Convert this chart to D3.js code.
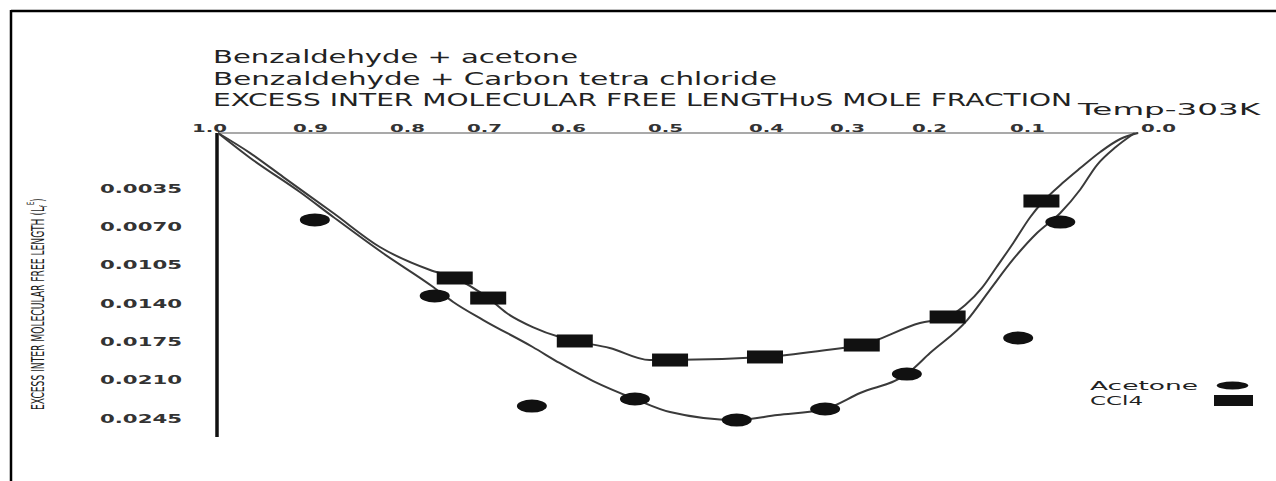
<!DOCTYPE html>
<html><head><meta charset="utf-8">
<script src="https://cdn.jsdelivr.net/npm/d3@7"></script>
<style>html,body{margin:0;padding:0;background:#fff;} svg{display:block;}</style>
</head><body>
<svg id="chart" width="1276" height="481"></svg>
<script>
// ---------- data ----------
const titleLines = [
  "Benzaldehyde + acetone",
  "Benzaldehyde + Carbon tetra chloride",
  "EXCESS INTER MOLECULAR FREE LENGTH\u03C5S MOLE FRACTION"
];
const tempLabel = "Temp-303K";
const yAxisTitle = "EXCESS INTER MOLECULAR FREE LENGTH (L";
const xTicks = [1.0, 0.9, 0.8, 0.7, 0.6, 0.5, 0.4, 0.3, 0.2, 0.1, 0.0];
const yTicks = [0.0035, 0.0070, 0.0105, 0.0140, 0.0175, 0.0210, 0.0245];
const seriesNames = ["Acetone", "CCl4"];

// measured points (mole fraction, excess free length)
const acetoneX = [0.895, 0.764, 0.643, 0.531, 0.429, 0.327, 0.227, 0.109, 0.070];
const acetoneY = [0.00639, 0.01333, 0.02338, 0.02274, 0.02466, 0.02365, 0.02046, 0.01717, 0.00658];
const ccl4X = [0.738, 0.695, 0.593, 0.495, 0.401, 0.282, 0.181, 0.087];
const ccl4Y = [0.01169, 0.01352, 0.01744, 0.01918, 0.01890, 0.01781, 0.01525, 0.00466];

// hand-drawn trend curves
const acetoneCurveX = [1.0, 0.965, 0.911, 0.876, 0.825, 0.766, 0.740, 0.701, 0.642, 0.610, 0.574, 0.531, 0.495, 0.429, 0.386, 0.327, 0.284, 0.227, 0.199, 0.161, 0.138, 0.114, 0.091, 0.070, 0.052, 0.037, 0.020, 0.003];
const acetoneCurveY = [0, 0.00158, 0.00384, 0.00612, 0.00941, 0.01251, 0.01388, 0.01553, 0.01799, 0.01945, 0.02110, 0.02274, 0.02393, 0.02466, 0.02420, 0.02365, 0.02219, 0.02046, 0.01854, 0.01553, 0.01279, 0.00997, 0.00758, 0.00576, 0.00361, 0.00203, 0.00089, 0];
const ccl4CurveX = [1.0, 0.965, 0.929, 0.876, 0.828, 0.770, 0.738, 0.695, 0.673, 0.642, 0.610, 0.593, 0.557, 0.516, 0.495, 0.401, 0.325, 0.282, 0.211, 0.181, 0.163, 0.146, 0.131, 0.114, 0.097, 0.086, 0.068, 0.052, 0.034, 0.016, 0.0];
const ccl4CurveY = [0, 0.00127, 0.00279, 0.00576, 0.00886, 0.01096, 0.01169, 0.01352, 0.01489, 0.01617, 0.01708, 0.01744, 0.01808, 0.01918, 0.01918, 0.01890, 0.01826, 0.01781, 0.01580, 0.01525, 0.01416, 0.01260, 0.01069, 0.00849, 0.00612, 0.00475, 0.00317, 0.00222, 0.00120, 0.00038, 0];

// ---------- drawing ----------
const svg = d3.select("#chart");
const FONT = "DejaVu Sans, Verdana, sans-serif";

// page frame
svg.append("line").attr("x1", 11).attr("x2", 1276).attr("y1", 11).attr("y2", 11).attr("stroke", "#000").attr("stroke-width", 2.5);
svg.append("line").attr("x1", 11).attr("x2", 11).attr("y1", 10).attr("y2", 481).attr("stroke", "#000").attr("stroke-width", 2.5);

// scales (hand-drawn, piecewise linear)
const x = d3.scaleLinear().domain(xTicks).range([218, 310, 407, 484, 568, 665, 766, 847, 929, 1027, 1138]);
const y = d3.scaleLinear().domain([0, 0.0035, 0.0245]).range([133, 188.3, 418.3]);

// titles
const titleWidths = [365, 564, 859];
const titleBase = [62.5, 84.5, 106];
svg.append("g").selectAll("text").data(titleLines).join("text")
  .attr("x", 213).attr("y", (d, i) => titleBase[i])
  .attr("textLength", (d, i) => titleWidths[i]).attr("lengthAdjust", "spacingAndGlyphs")
  .attr("font-family", FONT).attr("font-size", 17).attr("fill", "#222")
  .text(d => d);

svg.append("text").attr("x", 1078).attr("y", 115)
  .attr("textLength", 182).attr("lengthAdjust", "spacingAndGlyphs")
  .attr("font-family", FONT).attr("font-size", 16).attr("fill", "#222")
  .text(tempLabel);

// top x axis
const gx = svg.append("g").attr("transform", "translate(0,132.5)")
  .call(d3.axisTop(x).tickValues(xTicks).tickFormat(d3.format(".1f")).tickSize(0).tickPadding(1));
gx.select(".domain").attr("stroke", "#555").attr("stroke-width", 1.2);
gx.selectAll("text")
  .attr("font-family", FONT).attr("font-size", 11).attr("font-weight", "bold").attr("fill", "#333")
  .attr("textLength", 35).attr("lengthAdjust", "spacingAndGlyphs")
  .attr("dx", d => d === 1.0 ? -9 : (d === 0.0 ? 20 : 0));

// left y axis
const gy = svg.append("g").attr("transform", "translate(217,0)")
  .call(d3.axisLeft(y).tickValues(yTicks).tickFormat(d3.format(".4f")).tickSize(0).tickPadding(35));
gy.select(".domain").remove();
gy.selectAll("text")
  .attr("font-family", FONT).attr("font-size", 12).attr("font-weight", "bold").attr("fill", "#333")
  .attr("textLength", 82).attr("lengthAdjust", "spacingAndGlyphs");
svg.append("line").attr("x1", 217).attr("x2", 217).attr("y1", y(0)).attr("y2", 437)
  .attr("stroke", "#111").attr("stroke-width", 3.5);

// y axis title (condensed by scaling along the text direction)
const ytg = svg.append("g");
const yt = ytg.append("text")
  .attr("font-family", FONT).attr("font-size", 18).attr("fill", "#1a1a1a");
yt.append("tspan").text(yAxisTitle);
yt.append("tspan").attr("font-size", 10).attr("dy", 3).text("f");
yt.append("tspan").attr("font-size", 10).attr("dy", -13).text("E");
yt.append("tspan").attr("dy", 10).text(")");
const natural = yt.node().getComputedTextLength();
ytg.attr("transform", `translate(43.5,410) rotate(-90) scale(${212 / natural},1)`);

// curves
const line = d3.line().x(d => x(d[0])).y(d => y(d[1])).curve(d3.curveMonotoneX);
const acetoneCurve = d3.zip(acetoneCurveX, acetoneCurveY);
const ccl4Curve = d3.zip(ccl4CurveX, ccl4CurveY);
svg.append("path").datum(acetoneCurve).attr("d", line)
  .attr("fill", "none").attr("stroke", "#3a3a3a").attr("stroke-width", 2);
svg.append("path").datum(ccl4Curve).attr("d", line)
  .attr("fill", "none").attr("stroke", "#3a3a3a").attr("stroke-width", 2);

// markers
svg.append("g").selectAll("ellipse").data(d3.zip(acetoneX, acetoneY)).join("ellipse")
  .attr("cx", d => x(d[0])).attr("cy", d => y(d[1])).attr("rx", 15).attr("ry", 6.5)
  .attr("fill", "#111");
svg.append("g").selectAll("rect").data(d3.zip(ccl4X, ccl4Y)).join("rect")
  .attr("x", d => x(d[0]) - 18).attr("y", d => y(d[1]) - 6.5).attr("width", 36).attr("height", 13)
  .attr("fill", "#111");

// legend
const legendBase = [390, 405];
const legendWidths = [108, 53];
svg.append("g").selectAll("text").data(seriesNames).join("text")
  .attr("x", 1090).attr("y", (d, i) => legendBase[i])
  .attr("textLength", (d, i) => legendWidths[i]).attr("lengthAdjust", "spacingAndGlyphs")
  .attr("font-family", FONT).attr("font-size", 12.5).attr("fill", "#222")
  .text(d => d);
svg.append("ellipse").attr("cx", 1232.5).attr("cy", 385.5).attr("rx", 15.8).attr("ry", 4).attr("fill", "#111");
svg.append("rect").attr("x", 1214).attr("y", 395).attr("width", 39).attr("height", 11).attr("fill", "#111");
</script>
</body></html>
